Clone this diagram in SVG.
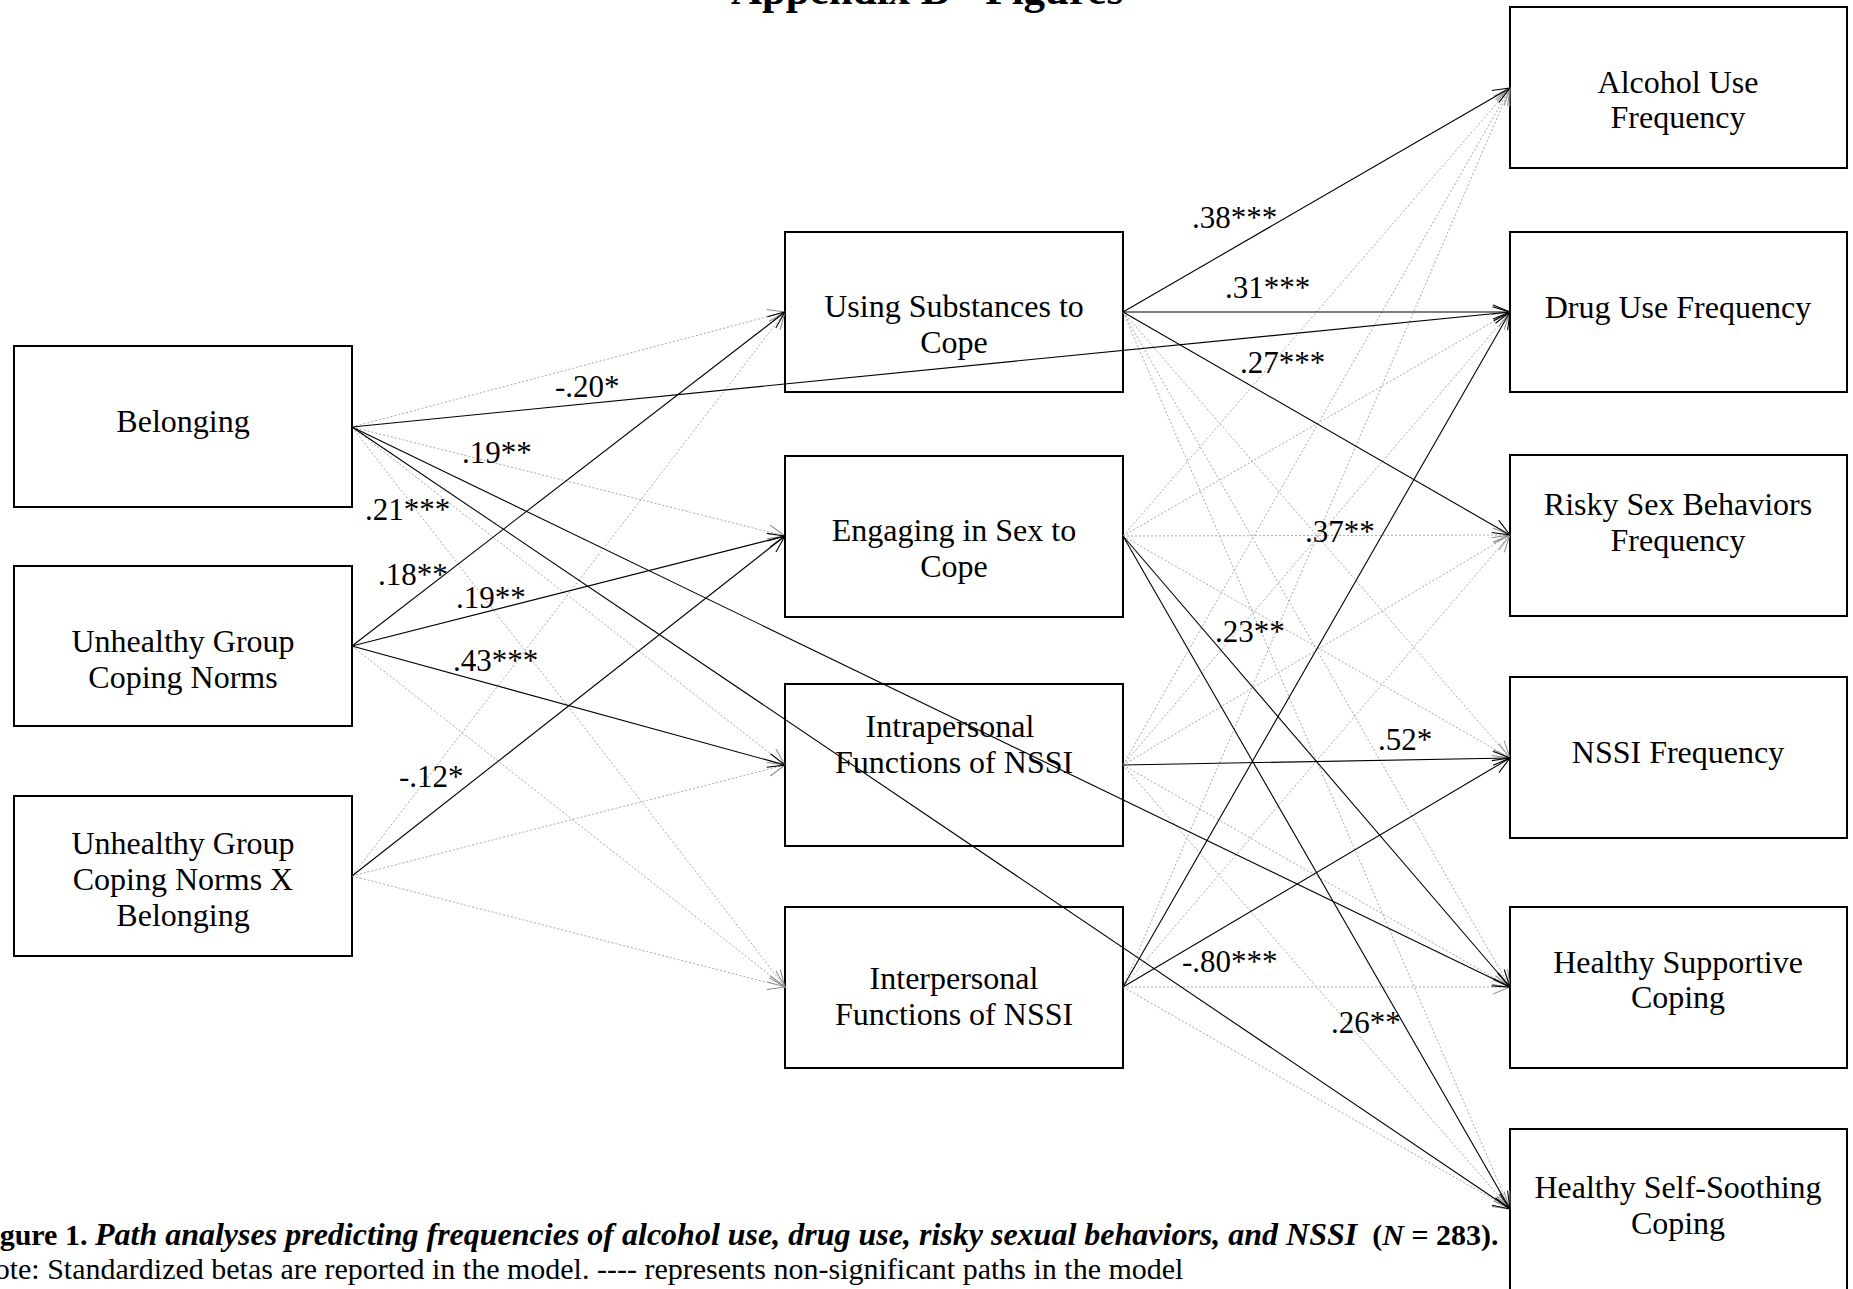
<svg xmlns="http://www.w3.org/2000/svg" width="1853" height="1289" viewBox="0 0 1853 1289">
<style>
.box{fill:none;stroke:#000;stroke-width:2}
.t{font-family:"Liberation Serif","Times New Roman",serif;font-size:32px;text-anchor:middle;fill:#000}
.lbl{font-family:"Liberation Serif","Times New Roman",serif;font-size:31px;fill:#000}
.cap{font-family:"Liberation Serif","Times New Roman",serif;font-size:30px;fill:#000}
.sig{stroke:#000;stroke-width:1.1;fill:none;marker-end:url(#ab)}
.ns{stroke:#a8a8a8;stroke-width:1;stroke-dasharray:2 2;fill:none;marker-end:url(#ag)}
</style>
<defs>
<marker id="ab" viewBox="-19 -9 21 18" markerWidth="21" markerHeight="18" refX="0" refY="0" orient="auto" markerUnits="userSpaceOnUse">
<path d="M-17,-7 L0,0 L-17,7" fill="none" stroke="#000" stroke-width="1.1"/>
</marker>
<marker id="ag" viewBox="-19 -9 21 18" markerWidth="21" markerHeight="18" refX="0" refY="0" orient="auto" markerUnits="userSpaceOnUse">
<path d="M-17,-7 L0,0 L-17,7" fill="none" stroke="#8a8a8a" stroke-width="1"/>
</marker>
</defs>
<rect width="1853" height="1289" fill="#fff"/>
<text x="927" y="4" font-family="Liberation Serif, serif" font-size="43" font-weight="bold" text-anchor="middle">Appendix B - Figures</text>

<g id="belonging"><rect class="box" x="14" y="346" width="338" height="161"/><text class="t" x="183" y="432">Belonging</text></g>
<g id="ugcn"><rect class="box" x="14" y="566" width="338" height="160"/><text class="t" x="183" y="652">Unhealthy Group</text><text class="t" x="183" y="688">Coping Norms</text></g>
<g id="ugcnxb"><rect class="box" x="14" y="796" width="338" height="160"/><text class="t" x="183" y="854">Unhealthy Group</text><text class="t" x="183" y="890">Coping Norms X</text><text class="t" x="183" y="926">Belonging</text></g>

<g id="using"><rect class="box" x="785" y="232" width="338" height="160"/><text class="t" x="954" y="317">Using Substances to</text><text class="t" x="954" y="353">Cope</text></g>
<g id="engaging"><rect class="box" x="785" y="456" width="338" height="161"/><text class="t" x="954" y="541">Engaging in Sex to</text><text class="t" x="954" y="577">Cope</text></g>
<g id="intra"><rect class="box" x="785" y="684" width="338" height="162"/><text class="t" x="950" y="737">Intrapersonal</text><text class="t" x="954" y="773">Functions of NSSI</text></g>
<g id="inter"><rect class="box" x="785" y="907" width="338" height="161"/><text class="t" x="954" y="989">Interpersonal</text><text class="t" x="954" y="1025">Functions of NSSI</text></g>

<g id="alcohol"><rect class="box" x="1510" y="7" width="337" height="161"/><text class="t" x="1678" y="93">Alcohol Use</text><text class="t" x="1678" y="128">Frequency</text></g>
<g id="drug"><rect class="box" x="1510" y="232" width="337" height="160"/><text class="t" x="1678" y="318">Drug Use Frequency</text></g>
<g id="risky"><rect class="box" x="1510" y="455" width="337" height="161"/><text class="t" x="1678" y="515">Risky Sex Behaviors</text><text class="t" x="1678" y="551">Frequency</text></g>
<g id="nssi"><rect class="box" x="1510" y="677" width="337" height="161"/><text class="t" x="1678" y="763">NSSI Frequency</text></g>
<g id="hsc"><rect class="box" x="1510" y="907" width="337" height="161"/><text class="t" x="1678" y="973">Healthy Supportive</text><text class="t" x="1678" y="1008">Coping</text></g>
<g id="hssc"><rect class="box" x="1510" y="1129" width="337" height="166"/><text class="t" x="1678" y="1198">Healthy Self-Soothing</text><text class="t" x="1678" y="1234">Coping</text></g>

<g id="connectors">
<line class="ns" x1="352" y1="427" x2="785" y2="312"/>
<line class="ns" x1="352" y1="427" x2="785" y2="536"/>
<line class="ns" x1="352" y1="427" x2="785" y2="765"/>
<line class="ns" x1="352" y1="427" x2="785" y2="987"/>
<line class="ns" x1="352" y1="646" x2="785" y2="987"/>
<line class="ns" x1="352" y1="876" x2="785" y2="312"/>
<line class="ns" x1="352" y1="876" x2="785" y2="765"/>
<line class="ns" x1="352" y1="876" x2="785" y2="987"/>

<line class="ns" x1="1123" y1="312" x2="1510" y2="758"/>
<line class="ns" x1="1123" y1="312" x2="1510" y2="987"/>
<line class="ns" x1="1123" y1="312" x2="1510" y2="1209"/>
<line class="ns" x1="1123" y1="536" x2="1510" y2="88"/>
<line class="ns" x1="1123" y1="536" x2="1510" y2="312"/>
<line class="ns" x1="1123" y1="536" x2="1510" y2="535"/>
<line class="ns" x1="1123" y1="536" x2="1510" y2="758"/>
<line class="ns" x1="1123" y1="765" x2="1510" y2="88"/>
<line class="ns" x1="1123" y1="765" x2="1510" y2="312"/>
<line class="ns" x1="1123" y1="765" x2="1510" y2="535"/>
<line class="ns" x1="1123" y1="765" x2="1510" y2="987"/>
<line class="ns" x1="1123" y1="765" x2="1510" y2="1209"/>
<line class="ns" x1="1123" y1="987" x2="1510" y2="88"/>
<line class="ns" x1="1123" y1="987" x2="1510" y2="535"/>
<line class="ns" x1="1123" y1="987" x2="1510" y2="987"/>
<line class="ns" x1="1123" y1="987" x2="1510" y2="1209"/>

<line class="sig" x1="352" y1="646" x2="785" y2="312"/>
<line class="sig" x1="352" y1="646" x2="785" y2="536"/>
<line class="sig" x1="352" y1="646" x2="785" y2="765"/>
<line class="sig" x1="352" y1="876" x2="785" y2="536"/>
<line class="sig" x1="352" y1="427" x2="1510" y2="312"/>
<line class="sig" x1="352" y1="427" x2="1510" y2="987"/>
<line class="sig" x1="352" y1="427" x2="1510" y2="1209"/>
<line class="sig" x1="1123" y1="312" x2="1510" y2="88"/>
<line class="sig" x1="1123" y1="312" x2="1510" y2="312"/>
<line class="sig" x1="1123" y1="312" x2="1510" y2="535"/>
<line class="sig" x1="1123" y1="536" x2="1510" y2="987"/>
<line class="sig" x1="1123" y1="536" x2="1510" y2="1209"/>
<line class="sig" x1="1123" y1="765" x2="1510" y2="758"/>
<line class="sig" x1="1123" y1="987" x2="1510" y2="312"/>
<line class="sig" x1="1123" y1="987" x2="1510" y2="758"/>

<text class="lbl" x="555" y="397">-.20*</text>
<text class="lbl" x="462" y="463">.19**</text>
<text class="lbl" x="365" y="520">.21***</text>
<text class="lbl" x="378" y="585">.18**</text>
<text class="lbl" x="456" y="608">.19**</text>
<text class="lbl" x="453" y="671">.43***</text>
<text class="lbl" x="399" y="787">-.12*</text>
<text class="lbl" x="1192" y="228">.38***</text>
<text class="lbl" x="1225" y="298">.31***</text>
<text class="lbl" x="1240" y="373">.27***</text>
<text class="lbl" x="1305" y="542">.37**</text>
<text class="lbl" x="1215" y="642">.23**</text>
<text class="lbl" x="1378" y="750">.52*</text>
<text class="lbl" x="1182" y="972">-.80***</text>
<text class="lbl" x="1331" y="1033">.26**</text>
</g>

<g id="caption">
<text class="cap" x="-27" y="1245" font-weight="bold">Figure 1. <tspan font-style="italic" font-size="32">Path analyses predicting frequencies of alcohol use, drug use, risky sexual behaviors, and NSSI</tspan>&#160; (<tspan font-style="italic">N</tspan> = 283).</text>
<text class="cap" x="-27" y="1279" font-size="30.65">Note: Standardized betas are reported in the model. ---- represents non-significant paths in the model</text>
</g>
</svg>
